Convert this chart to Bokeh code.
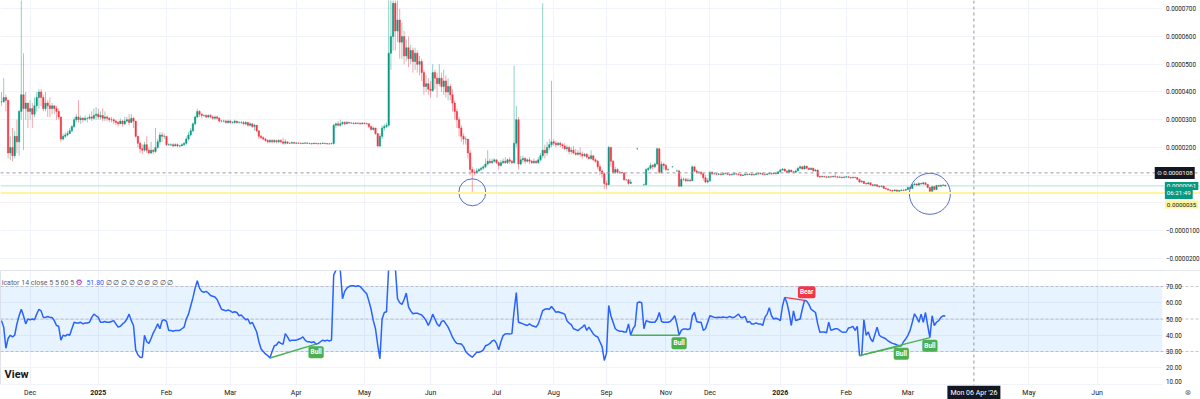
import numpy as np
from bokeh.plotting import figure
from bokeh.layouts import column
from bokeh.models import FixedTicker, Range1d, Span, BoxAnnotation, Label, ColumnDataSource
from bokeh.core.properties import value
from bokeh.embed import file_html
from bokeh.resources import INLINE

# ---------------- data (prices in units of 1e-6, one value per daily bar) ----------------
close_e6 = [
    36.5, 38, 37, 18, 20, 17, 24, 22, 33, 39,
    34, 36, 33, 34, 32, 35, 38, 40, 38, 34,
    36, 35, 34, 35, 34, 33, 31, 23, 24, 24.5,
    25, 26, 27.5, 30, 31, 30, 30.5, 30, 30.5, 30.5,
    31, 30.5, 31.5, 32, 31, 31.5, 30.5, 31, 30.5, 30,
    30, 29.5, 29, 28.5, 29.5, 28.5, 29.5, 30, 29, 30.5,
    29.5, 24, 21.5, 19.5, 19, 21, 19, 18, 19, 18.5,
    20, 22, 24.5, 24, 24, 21, 21, 21, 20.5, 21,
    20.5, 20.5, 21, 21.5, 23, 24.5, 26, 28.5, 31, 33,
    32, 31.5, 31.5, 31, 31.5, 31, 30.5, 31, 30.5, 29.5,
    29.5, 29.5, 29, 29.5, 29, 29, 29.5, 29, 29, 29,
    28.5, 29, 28, 28.5, 27.5, 28, 26, 24, 23.5, 23,
    22.5, 22, 22.5, 22, 22.5, 22, 22.5, 22, 21.5, 22,
    21.5, 21.5, 21.8, 21.5, 21.6, 21.5, 21.4, 21.5, 21.6, 21.5,
    21.4, 21.3, 21.5, 21.4, 21.3, 21.4, 21.5, 21.4, 21.3, 21.3,
    21.4, 28, 28.5, 28, 28.5, 29, 28.5, 29, 28.8, 28.8,
    28.6, 28.8, 28.7, 28.5, 28.8, 28.6, 28.5, 27.5, 26.5, 27,
    25, 20.5, 24, 27, 27.5, 28, 54, 60, 72, 62,
    66, 58, 60, 53, 56, 52, 55, 51, 54, 50,
    51, 47, 42, 43, 41, 40.5, 47, 45, 43, 45,
    42, 44, 40, 42, 39, 36, 33, 30, 27, 24,
    23, 23, 18, 12, 11, 10.8, 11.5, 12, 12.5, 13,
    14, 15, 14.5, 15, 15.5, 14.5, 13.5, 14.5, 15, 14.5,
    15.5, 15, 14.5, 21.5, 30, 14, 15.5, 16, 15, 15.5,
    15, 14.5, 15, 14.5, 15.5, 17, 19, 18, 20, 21,
    22, 21.5, 21, 21.5, 21, 20.5, 19.5, 20, 18.5, 19,
    18, 17.5, 18, 17.5, 17, 17.5, 16.5, 16, 17, 15.5,
    15, 13, 11.5, 10.5, 7, 6.5, 20, 15, 11, 12,
    11, 11, 10.8, 8.3, 8.3, 7, 7.5, None, None, 19.5,
    None, None, 6.5, 12, 12.5, 13.5, 13, 14, 19.5, 11,
    14, 13.5, 12, 12, None, 13, None, 11.5, 6, 8.5,
    8.5, 8, 8.2, 8, 13, 11.5, 11, 11, 10.5, 9,
    7.5, 8, 11, 10.5, 10.5, 10.3, 10.4, 10.2, 10.5, 10.6,
    10.3, 10.1, 10.3, 10.5, 10.4, 10.2, 9.9, 10.0, 10.3, 10.2,
    10.4, 10.1, 10.2, 10.5, 10.4, 10.6, 10.3, 10.2, 10.4, 10.6,
    10.4, 10.7, 10.5, 11.2, 11.8, 12.2, 11.5, 11.0, 11.8, 11.2,
    11.0, 11.5, 12.5, 13.0, 12.2, 13.2, 12.5, 12.0, 12.5, 11.5,
    11.8, 9.5, 9.3, 9.5, 9.4, 9.2, 9.4, 9.3, 9.5, 9.4,
    9.2, 9.3, 9.1, 9.3, 9.4, 9.2, 9.0, 9.2, 9.1, 8.5,
    7.5, 7.8, 7.0, 6.8, 7.2, 6.5, 6.2, 6.5, 6.0, 5.8,
    6.0, 5.2, 5.0, 4.6, 4.5, 4.3, 4.6, 4.2, 4.4, 4.6,
    4.5, 4.8, 5.5, 5.2, 6.5, 6.8, 6.4, 7.0, 6.8, 7.2,
    6.6, 5.5, 4.2, 5.8, 4.8, 6.2, 6.0, 6.3, 6.4, 6.1,
]
high_e6 = [
    40, 45, 39, 37, 24, 27, 26, 30, 33.5, 85,
    54, 40, 36, 37, 36, 38, 40, 41, 41, 39,
    40, 37, 38, 36, 35, 35, 34, 31, 25, 25.5,
    26, 27, 28, 31, 32, 37, 31.5, 31, 31.5, 31,
    32, 33, 34, 34.5, 34, 33, 34, 33, 31.5, 31,
    31, 30.5, 30, 29.5, 30.5, 30, 31, 31, 32, 32,
    31, 29.5, 24, 22, 21, 22, 24, 20, 22, 19.5,
    27, 23, 25.5, 25.5, 25, 24, 21.5, 21.5, 21.5, 21.5,
    21.5, 21, 21.5, 22, 24, 25.5, 27, 29, 31.5, 34,
    33.5, 32.5, 32, 32, 32, 32, 31.5, 31.5, 31.5, 31,
    30, 30, 30, 30, 30, 29.5, 30, 29.5, 29.5, 29.5,
    29.5, 29.5, 29, 29, 28.5, 28.5, 28, 26, 24.5, 24,
    23.5, 23, 23, 23, 23, 22.5, 23, 23, 23.5, 23,
    21.8, 21.8, 22.1, 21.8, 21.9, 21.8, 21.7, 21.8, 21.9, 21.8,
    21.7, 21.6, 21.8, 21.7, 21.6, 21.7, 21.8, 21.7, 21.6, 21.6,
    21.7, 28.5, 29, 29.5, 30, 29.5, 29.5, 29.5, 29.2, 29,
    29, 29.1, 29, 29, 29, 29, 28.9, 28.6, 27.8, 27.5,
    27, 25, 25, 28, 28.5, 29, 75, 80, 95, 78,
    76, 70, 65, 62, 59, 60, 57, 56, 56, 55,
    53, 52, 48, 46, 45, 44, 50, 48, 47, 50,
    47, 48, 46, 45, 43, 41, 37, 34, 31, 28,
    25, 24, 23, 19, 13, 12, 12.5, 12.5, 13, 13.5,
    16, 19, 16, 16, 16, 15.5, 15, 15.5, 16, 16.5,
    16, 16.5, 15.5, 49.5, 35, 31, 17, 17, 16.5, 16,
    16.5, 15.5, 16, 15.5, 16.5, 18, 72, 21, 22, 23,
    44, 23, 22.5, 22, 22, 21.5, 21.5, 21, 20.5, 20,
    20.5, 19.5, 19, 20, 18.5, 18, 18, 17.5, 19, 17,
    16, 15.5, 14, 12, 11, 8, 20.5, 20, 15.5, 13,
    12.5, 11.5, 11, 10.8, 8.5, 8.5, 8.5, None, None, 19.8,
    None, None, 7, 12.5, 13, 14.5, 14, 14.5, 20, 19.8,
    15, 14.5, 14, 12.5, None, 13.2, None, 12, 12, 9.5,
    9, 9, 9, 8.8, 13.5, 13, 12, 11.5, 11.5, 10.5,
    10, 9, 11.5, 11.5, 10.9, 10.6, 10.8, 10.5, 10.8, 11.0,
    10.6, 10.4, 10.6, 10.9, 10.7, 10.5, 10.3, 10.3, 10.6, 10.5,
    10.8, 10.4, 10.5, 10.9, 10.7, 11.0, 10.6, 10.5, 10.8, 11.0,
    10.7, 11.1, 10.9, 11.5, 12.3, 12.6, 12.3, 11.6, 12.2, 11.9,
    11.5, 12.0, 12.8, 13.5, 13.2, 13.7, 13.4, 12.7, 12.8, 12.6,
    12.2, 12, 9.6, 9.8, 9.7, 9.5, 9.7, 9.6, 9.8, 11.0,
    9.5, 9.6, 9.4, 9.6, 9.7, 9.5, 9.3, 9.5, 9.4, 9.3,
    8.6, 8.2, 7.9, 7.3, 7.5, 7.3, 6.7, 6.8, 6.6, 6.2,
    6.3, 6.1, 5.4, 5.2, 4.9, 4.7, 4.9, 4.8, 4.7, 4.9,
    4.9, 5.1, 5.8, 5.7, 6.8, 7.4, 7.0, 7.4, 7.2, 7.6,
    7.3, 6.7, 5.6, 6.1, 6.0, 6.5, 6.4, 6.6, 6.7, 6.4,
]
low_e6 = [
    35, 36, 33, 16, 15.5, 15, 16, 18, 17, 30,
    19, 30, 27, 30, 27, 31, 33, 34, 35, 33,
    33, 31, 31, 32, 32, 30, 30, 22, 22.5, 23.5,
    24, 25, 25.5, 27, 29, 29, 28.5, 29, 29.5, 29,
    30, 29.5, 30, 30, 30, 30, 29.5, 29.5, 29.5, 29,
    29, 28.5, 28, 27.5, 28.5, 27.5, 28, 29, 28, 29,
    27, 23.5, 20, 18, 17.5, 18.5, 18, 17.5, 17.5, 17.5,
    18, 19.5, 21, 22, 23, 20.5, 20.5, 20.5, 20, 20.5,
    20, 20, 20.5, 20.5, 21, 22.5, 24, 25.5, 28, 30.5,
    31, 30.5, 31, 30.5, 30.5, 30.5, 30, 30, 30, 29,
    29, 29, 28.5, 28.5, 28.5, 28.5, 28.5, 28.5, 28.5, 28.5,
    28, 28, 27.5, 27.5, 27, 26, 25.5, 23, 23, 22.5,
    22, 21.5, 21.5, 21.5, 21.5, 21.5, 21.5, 21.5, 21, 21,
    21.2, 21.2, 21.5, 21.2, 21.3, 21.2, 21.1, 21.2, 21.3, 21.2,
    21.1, 21.0, 21.2, 21.1, 21.0, 21.1, 21.2, 21.1, 21.0, 21.0,
    21.1, 21, 27, 27.5, 27.5, 28, 28, 28.5, 28.5, 28.5,
    28.3, 28.4, 28.4, 28.2, 28.4, 28.3, 28.2, 27, 26, 26,
    24.5, 20, 20, 23, 26, 27, 27.5, 48, 55, 55,
    58, 52, 52, 50, 51, 49, 50, 47, 48, 47,
    46, 44, 39, 40, 39, 38, 40, 41, 38, 42,
    40, 39, 38, 37, 37, 33, 30, 27, 24, 22,
    21, 21, 16, 10, 4, 10, 10.5, 11, 11.5, 12,
    12.5, 13.5, 14, 14, 14.5, 14, 12, 13, 14, 14,
    14, 14, 14, 14, 20, 12, 13.5, 14.5, 14, 14.5,
    14, 14, 14, 14, 14, 15, 16, 16, 17, 19,
    20, 20.5, 20, 20.5, 20, 19.5, 19, 18.5, 17.5, 17.5,
    17.5, 17, 17, 16.5, 16, 16.5, 16, 15.5, 15.5, 15,
    14.5, 12, 10, 9, 5, 5, 6.5, 13, 10.5, 10.5,
    10.5, 10.5, 10.5, 8, 8, 6.5, 7, None, None, 19.2,
    None, None, 6.3, 6.3, 11.5, 12, 12, 12.5, 13.5, 10.5,
    10.5, 12, 11.5, 11.5, None, 12.8, None, 11.2, 5.8, 5.8,
    7.8, 7.5, 7.6, 7.5, 8, 11, 10.5, 10.5, 10, 8,
    7, 7, 7.5, 10, 10.2, 10.0, 10.1, 9.9, 10.1, 10.3,
    10.0, 9.8, 10.0, 10.2, 10.1, 9.9, 9.5, 9.7, 10.0, 9.9,
    10.1, 9.8, 9.9, 10.2, 10.1, 10.3, 10.0, 9.9, 10.1, 10.3,
    10.1, 10.4, 10.2, 10.4, 11.0, 11.6, 11.2, 10.8, 10.9, 11.0,
    10.7, 10.9, 11.4, 12.3, 12.0, 12.0, 12.2, 11.8, 11.9, 11.3,
    11.3, 9.2, 9.0, 9.2, 9.1, 8.9, 9.1, 9.0, 9.2, 9.1,
    8.9, 9.0, 8.8, 9.0, 9.1, 8.9, 8.7, 8.9, 8.8, 8.2,
    7.2, 7.3, 6.8, 6.6, 6.7, 6.3, 6.0, 6.1, 5.8, 5.5,
    5.7, 5.0, 4.7, 4.4, 4.2, 4.0, 4.2, 4.0, 4.1, 4.3,
    4.2, 4.4, 4.7, 5.0, 5.1, 6.4, 6.1, 6.2, 6.5, 6.6,
    6.4, 5.3, 3.6, 4.0, 4.5, 4.7, 5.8, 5.9, 6.1, 5.9,
]
rsi = [
    49, 45, 32, 38, 40, 39, 40, 47, 52, 56,
    52, 47, 50, 49.5, 50, 49.5, 53, 56, 55, 51,
    51, 51.5, 51, 51, 49, 46, 45.5, 37, 40, 39.5,
    40.5, 40, 44, 48, 47.5, 47.5, 48, 47, 47.5, 47.5,
    48, 51, 53, 52, 51, 48, 48, 48.5, 48, 48,
    48.5, 49, 47, 45, 45.5, 47, 48, 50, 53, 49,
    46, 31, 28, 26.5, 26.3, 40, 36, 35, 38, 41.5,
    44, 47, 44, 49, 49.5, 48.5, 43, 43, 42.5, 43,
    43, 43, 44, 45, 50, 53, 58, 63, 69, 73.5,
    69, 67, 66.5, 67, 66, 64.5, 64, 63.5, 62, 59,
    56, 55.5, 55, 55.5, 55, 54, 54.5, 54, 52, 52.5,
    51, 49.5, 50, 47, 48, 45, 42, 36, 31.5, 30,
    28.5, 27.5, 26, 30, 33.5, 34, 36, 35, 34.5, 41,
    39, 36.5, 37, 37, 37, 37.5, 38, 39, 37, 36,
    36, 35.5, 36, 34.5, 35, 36, 37, 36.5, 37, 36.5,
    37, 77, 80, 82, 80, 62.5, 67, 69, 70, 70.5,
    70.5, 70, 70.5, 70, 68.5, 67, 65.5, 61, 56, 49,
    44, 34, 25.5, 50, 54, 54.5, 82, 85, 87, 82,
    62.5, 60, 59, 62, 66, 57.5, 55, 53.2, 53.5, 53.5,
    53, 52.5, 51, 49, 46, 49, 53, 50, 47, 45.5,
    48.5, 49, 47, 45, 42, 38.8, 36.5, 35, 34.8, 34.6,
    33, 30, 28.5, 27.5, 26.5, 28, 29.5, 29.5, 30, 31,
    33.5, 34, 35, 36.5, 37, 35, 31, 36, 39.8, 40.8,
    41, 40.8, 41, 55, 66.3, 48, 47.5, 47, 46.5, 46,
    47, 46, 45.5, 45, 47, 51, 55.2, 56, 56.3, 56,
    57.7, 56, 54.2, 54.5, 54, 53.5, 53, 49, 47.5, 46.5,
    44, 43.5, 42.9, 44, 45, 46.5, 43, 45, 43, 40.8,
    39.5, 39, 36, 33, 24.5, 29, 58.3, 52, 48, 44,
    43, 42.5, 42.5, 42, 42, 47, 40, 43.9, 46, 60,
    60.5, 60, 44, 49, 48.5, 48, 48, 48, 50, 54,
    48.5, 48, 48, 48, 48.5, 50, 52, 47, 40, 43,
    43.9, 43.9, 43.5, 44, 52, 54, 48.5, 48, 48, 43,
    44, 48, 52, 51.5, 51, 51, 51.1, 51, 51.2, 51,
    51, 51.5, 51, 51, 52, 53, 51, 51, 51.5, 48,
    48.5, 47, 47, 47.5, 47, 47, 46, 51, 53, 57,
    52, 50, 50.5, 50, 49, 58, 63.3, 60, 54, 46,
    55, 49, 49.5, 50, 56, 61.5, 61, 59, 56, 55,
    54, 47, 41.8, 42, 42, 41.5, 48, 43, 43.5, 44,
    44, 43, 42, 41.8, 42, 44.5, 44.8, 45.5, 43, 45.5,
    27.5, 27.5, 49.7, 40, 42, 38, 36, 40.5, 45, 40,
    39, 38.5, 37.7, 36.5, 35.7, 35, 34.6, 34, 33.6, 33.5,
    36, 37.7, 40, 43, 48, 53.2, 51, 48, 53, 48,
    54, 46, 38.5, 52, 46, 48, 49, 51, 52, 51.8,
]

price_ticks = [70, 60, 50, 40, 30, 20, 10, 0, -10, -20]
price_tick_labels = ["0.0000700", "0.0000600", "0.0000500", "0.0000400", "0.0000300",
                     "0.0000200", "", "", "\u22120.0000100", "\u22120.0000200"]
rsi_ticks = [70, 60, 50, 40, 30, 20, 10]
rsi_tick_labels = ["70.00", "60.00", "50.00", "40.00", "30.00", "20.00", "10.00"]

# first bar of each month (bar index) and its label
month_bar = [13, 44, 75, 104, 134, 165, 195, 225, 251, 275, 302, 322, 354, 384, 412, 467, 498]
month_labels = ["Dec", "2025", "Feb", "Mar", "Apr", "May", "Jun", "Jul", "Aug", "Sep",
                "Nov", "Dec", "2026", "Feb", "Mar", "May", "Jun"]

# divergences (bar index, indicator value)
div_x0 = [122, 286, 390, 390, 356]
div_y0 = [26, 40, 27.5, 27.5, 63.3]
div_x1 = [143, 308, 409, 422, 365]
div_y1 = [34.5, 40, 33.5, 38.5, 61.5]
div_kind = ["Bull", "Bull", "Bull", "Bull", "Bear"]

# levels / cursor / marked zones
cursor_bar, cursor_price = 442, 10.8
last_price, alert_price = 6.1, 3.5
circle_bar = [214, 422]
circle_price = [3.8, 3.25]

# ---------------- build ----------------
UP, DOWN = "#089981", "#f23645"
TXT = "#131722"
FONT = "Roboto"
SCALE_X = 527.7      # left edge of the price-scale strip (bar units)
LBL_X = 529.3        # where scale labels start
TAG_X = 528.8        # where the value tags start

c = np.array(close_e6, dtype=float)
h = np.array(high_e6, dtype=float)
l = np.array(low_e6, dtype=float)
r = np.array(rsi, dtype=float)
n = len(c)
assert len(h) == n and len(l) == n and len(r) == n, (len(c), len(h), len(l), len(r))
bar = np.arange(n)
prev = np.r_[np.nan, c[:-1]]
o = np.where(np.isnan(prev), c, prev)          # open = previous close
ok = ~np.isnan(c)
b, o, c2, h2, l2 = bar[ok], o[ok], c[ok], h[ok], l[ok]
top = np.maximum(o, c2)
bot = np.minimum(o, c2)
src = ColumnDataSource(dict(
    x=b, top=top, bot=bot,
    hi=np.maximum(h2, top), lo=np.minimum(l2, bot),
    col=np.where(c2 >= o, UP, DOWN),
))

xr = Range1d(-0.4545, 545.0)
common = dict(width=1200, toolbar_location=None, output_backend="svg", x_range=xr,
              x_axis_location=None, y_axis_location=None,
              min_border_left=0, min_border_right=0, min_border_top=0, min_border_bottom=0,
              background_fill_color="white", border_fill_color="white")

p1 = figure(height=270, y_range=Range1d(-24.44, 73.03), outline_line_color=None, **common)
p2 = figure(height=115, y_range=Range1d(9.08, 79.85), outline_line_color="#e0e3eb", **common)
p3 = figure(height=14, y_range=Range1d(0, 1), outline_line_color=None, **common)

for p, ticks in ((p1, price_ticks), (p2, rsi_ticks)):
    p.ygrid.ticker = FixedTicker(ticks=ticks)
    p.xgrid.ticker = FixedTicker(ticks=month_bar)
    p.xgrid.grid_line_color = "#f0f3fa"
    p.ygrid.grid_line_color = "#f0f3fa"
p3.xgrid.grid_line_color = None
p3.ygrid.grid_line_color = None

# ---- price pane ----
# price-scale strip on the right (under the glyphs, over the grid)
p1.add_layout(BoxAnnotation(left=SCALE_X, fill_color="white", fill_alpha=1, line_color=None,
                            level="underlay"))
p1.segment(x0="x", y0="lo", x1="x", y1="hi", line_color="col", line_alpha=0.45,
           line_width=1, source=src)
p1.vbar(x="x", width=0.62, top="top", bottom="bot", fill_color="col", line_color="col",
        line_width=0.5, source=src)
p1.scatter(x=circle_bar, y=circle_price, size=[27, 41], marker="circle",
           fill_color=None, line_color="#5a6bc7", line_width=1)

p1.add_layout(Span(location=alert_price, dimension="width", line_color="#fff59d", line_width=2))
p1.add_layout(Span(location=last_price, dimension="width", line_color=UP, line_alpha=0.3, line_width=1))
p1.add_layout(Span(location=cursor_price, dimension="width", line_color="#9598a1",
                   line_dash="3 3", line_width=1))
p1.add_layout(Span(location=cursor_bar, dimension="height", line_color="#9598a1",
                   line_dash="3 3", line_width=1))
p1.text(x=[LBL_X] * len(price_ticks), y=price_ticks, text=price_tick_labels,
        text_font=value(FONT), text_font_size="6.3px", text_color=TXT,
        text_align="left", text_baseline="middle")

def tag(p, x, y, text, bg, fg, yoff=0):
    p.add_layout(Label(x=x, y=y, y_offset=yoff, text=text,
                       text_font=FONT, text_font_size="6.2px", text_color=fg,
                       text_baseline="middle", text_align="left",
                       background_fill_color=bg, padding=2))

tag(p1, 524.2, cursor_price, "\u2299 0.0000108", TXT, "white")
tag(p1, TAG_X, last_price, "0.0000061", UP, "white")
tag(p1, TAG_X, last_price, "06:21:49", UP, "white", yoff=-7)
tag(p1, TAG_X, alert_price, "0.0000035", "#fff59d", TXT, yoff=-11.5)

# ---- indicator pane ----
p2.add_layout(BoxAnnotation(bottom=30, top=70, right=SCALE_X, fill_color="#2196f3",
                            fill_alpha=0.11, line_color=None, level="underlay"))
p2.add_layout(BoxAnnotation(left=SCALE_X, fill_color="white", fill_alpha=1, line_color=None,
                            level="underlay"))
for lv in (70, 50, 30):
    p2.add_layout(Span(location=lv, dimension="width", line_color="#9598a1", line_alpha=0.55,
                       line_dash="3 2", line_width=1, level="underlay"))
p2.add_layout(Span(location=cursor_bar, dimension="height", line_color="#9598a1",
                   line_dash="3 3", line_width=1))

p2.line(x=bar, y=r, line_color="#2962ff", line_width=1.5)

div_col = ["#4caf50" if k == "Bull" else "#f23645" for k in div_kind]
p2.segment(x0=div_x0, y0=div_y0, x1=div_x1, y1=div_y1, line_color=div_col, line_width=1.4)
for x1, y1, k, col in zip(div_x1, div_y1, div_kind, div_col):
    bull = k == "Bull"
    p2.add_layout(Label(x=x1 + (0 if bull else 1), y=y1, text=k, text_font=FONT,
                        text_font_size="6.5px", text_font_style="bold", text_color="white",
                        text_align="center", text_baseline="top" if bull else "bottom",
                        y_offset=-2 if bull else 2, background_fill_color=col, padding=2,
                        border_radius=2))

# scale labels; the lowest one sits on the pane's bottom edge
p2.text(x=[LBL_X] * (len(rsi_ticks) - 1), y=rsi_ticks[:-1], text=rsi_tick_labels[:-1],
        text_font=value(FONT), text_font_size="6.3px", text_color=TXT,
        text_align="left", text_baseline="middle")
p2.text(x=[LBL_X], y=rsi_ticks[-1:], text=rsi_tick_labels[-1:],
        text_font=value(FONT), text_font_size="6.3px", text_color=TXT,
        text_align="left", text_baseline="bottom")

hdr_y = 72.4
p2.add_layout(Label(x=0.1, y=hdr_y, text="icator 14 close 5 5 60 5", text_font=FONT,
                    text_font_size="7px", text_color="#5d606b", text_baseline="middle"))
p2.add_layout(Label(x=33.6, y=hdr_y, text="\u2699", text_font="DejaVu Sans",
                    text_font_size="8px", text_color="#9c27b0", text_baseline="middle"))
p2.add_layout(Label(x=38.6, y=hdr_y, text=f"{r[-1]:.2f}", text_font=FONT,
                    text_font_size="7px", text_color="#2962ff", text_baseline="middle"))
p2.add_layout(Label(x=47.3, y=hdr_y, text=" ".join(["\u2205"] * 9), text_font=FONT,
                    text_font_size="7px", text_color="#3b3e48", text_baseline="middle"))
p2.add_layout(Label(x=1.4, y=15.8, text="View", text_font=FONT, text_font_size="11px",
                    text_font_style="bold", text_color=TXT, text_align="left",
                    text_baseline="middle"))

# ---- time scale ----
is_year = [lab.isdigit() for lab in month_labels]
p3.text(x=[m for m, y in zip(month_bar, is_year) if not y],
        y=[0.5] * (len(month_bar) - sum(is_year)),
        text=[t for t, y in zip(month_labels, is_year) if not y],
        text_font=value(FONT), text_font_size="7px", text_color=TXT,
        text_align="center", text_baseline="middle")
p3.text(x=[m for m, y in zip(month_bar, is_year) if y], y=[0.5] * sum(is_year),
        text=[t for t, y in zip(month_labels, is_year) if y],
        text_font=value(FONT), text_font_size="7px", text_font_style="bold", text_color=TXT,
        text_align="center", text_baseline="middle")
p3.add_layout(Span(location=cursor_bar, dimension="height", line_color="#9598a1",
                   line_dash="3 3", line_width=1))
p3.add_layout(Label(x=cursor_bar, y=0.5, text="Mon 06 Apr '26", text_font=FONT,
                    text_font_size="7px", text_color="white", text_align="center",
                    text_baseline="middle", background_fill_color=TXT, padding=3))
p3.add_layout(Label(x=539.2, y=0.5, text="\u2297", text_font="DejaVu Sans",
                    text_font_size="8px", text_color="#6a6d78",
                    text_align="center", text_baseline="middle"))

layout = column(p1, p2, p3, spacing=0)
open("out.html", "w").write(file_html(layout, INLINE))
